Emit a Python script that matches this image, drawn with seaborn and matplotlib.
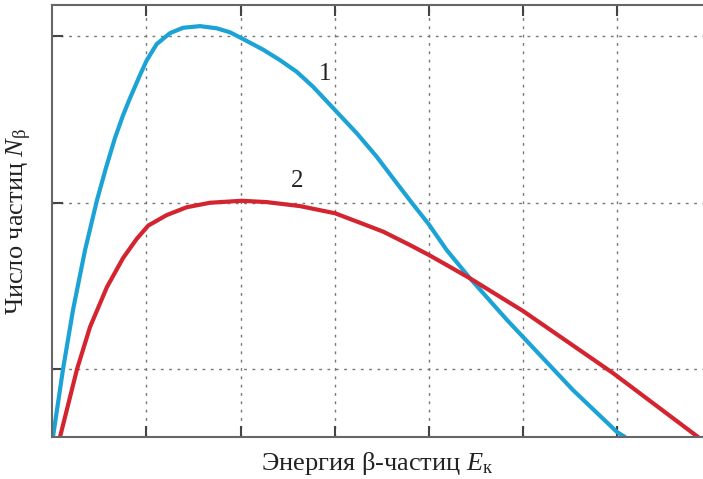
import matplotlib
matplotlib.use('Agg')
import matplotlib.pyplot as plt
import pandas as pd
import seaborn as sns

# curve 1 (blue) and curve 2 (red)
energy_1 = [0.007, 0.114, 0.22, 0.348, 0.475, 0.572, 0.666, 0.75, 0.826,
            0.932, 1.003, 1.109, 1.251, 1.389, 1.57, 1.747, 1.888, 2.002,
            2.239, 2.419, 2.597, 2.771, 3.004, 3.235, 3.447, 3.66, 3.819,
            4.003, 4.191, 4.439, 4.832, 5.002, 5.533, 6.001, 6.086]
count_1 = [0.0, 0.408, 0.763, 1.123, 1.423, 1.62, 1.796, 1.93, 2.036,
           2.174, 2.262, 2.36, 2.426, 2.458, 2.468, 2.455, 2.431, 2.398,
           2.327, 2.264, 2.194, 2.104, 1.964, 1.825, 1.684, 1.525, 1.408,
           1.276, 1.123, 0.953, 0.703, 0.601, 0.282, 0.03, 0.0]

energy_2 = [0.082, 0.263, 0.401, 0.581, 0.752, 0.897, 1.02, 1.216,
            1.428, 1.676, 2.013, 2.278, 2.632, 3.004, 3.27, 3.518, 3.801,
            4.003, 4.191, 4.439, 5.002, 5.958, 6.862]
count_2 = [0.0, 0.408, 0.661, 0.901, 1.075, 1.19, 1.27, 1.333,
           1.38, 1.407, 1.419, 1.411, 1.387, 1.344, 1.287, 1.233, 1.153,
           1.093, 1.033, 0.953, 0.757, 0.384, 0.0]

x_ticks = [1, 2, 3, 4, 5, 6]
y_ticks = [0.408, 1.405, 2.408]

df = pd.concat([
    pd.DataFrame({'E': energy_1, 'N': count_1, 'curve': '1'}),
    pd.DataFrame({'E': energy_2, 'N': count_2, 'curve': '2'}),
])

sns.set_style('white')
plt.rcParams['font.family'] = ['Liberation Serif', 'DejaVu Serif']
plt.rcParams['mathtext.fontset'] = 'custom'
plt.rcParams['mathtext.rm'] = 'Liberation Serif'
plt.rcParams['mathtext.it'] = 'Liberation Serif:italic'

fig = plt.figure(figsize=(7.03, 4.79), dpi=100)
ax = fig.add_axes([0.0744, 0.0877, 0.9256, 0.9019])

sns.lineplot(data=df, x='E', y='N', hue='curve',
             palette={'1': '#1ba3d6', '2': '#d3242f'},
             linewidth=3, sort=False, legend=False, ax=ax)

ax.set_xlim(0, 6.915)
ax.set_ylim(0, 2.595)
ax.set_xticks(x_ticks)
ax.set_yticks(y_ticks)
ax.set_xticklabels([])
ax.set_yticklabels([])
ax.grid(True, linestyle=(0, (2, 4)), color='#777777', linewidth=1)
ax.tick_params(direction='in', length=8, width=1.5, color='#444444',
               top=True, right=False, left=True, bottom=True)
for side in ['left', 'bottom', 'top']:
    ax.spines[side].set_color('#666666')
    ax.spines[side].set_linewidth(1.5)
ax.spines['right'].set_visible(False)

ax.set_xlabel(r'Энергия β-частиц $E_{\mathrm{к}}$', fontsize=19, labelpad=6,
              color='#222222')
ax.set_ylabel(r'Число частиц $N_{\mathrm{β}}$', fontsize=19, labelpad=10,
              color='#222222')

ax.text(2.9, 2.18, '1', fontsize=18, color='#222222', ha='center', va='center')
ax.text(2.6, 1.54, '2', fontsize=18, color='#222222', ha='center', va='center')

fig.savefig('out.png', dpi=100)
